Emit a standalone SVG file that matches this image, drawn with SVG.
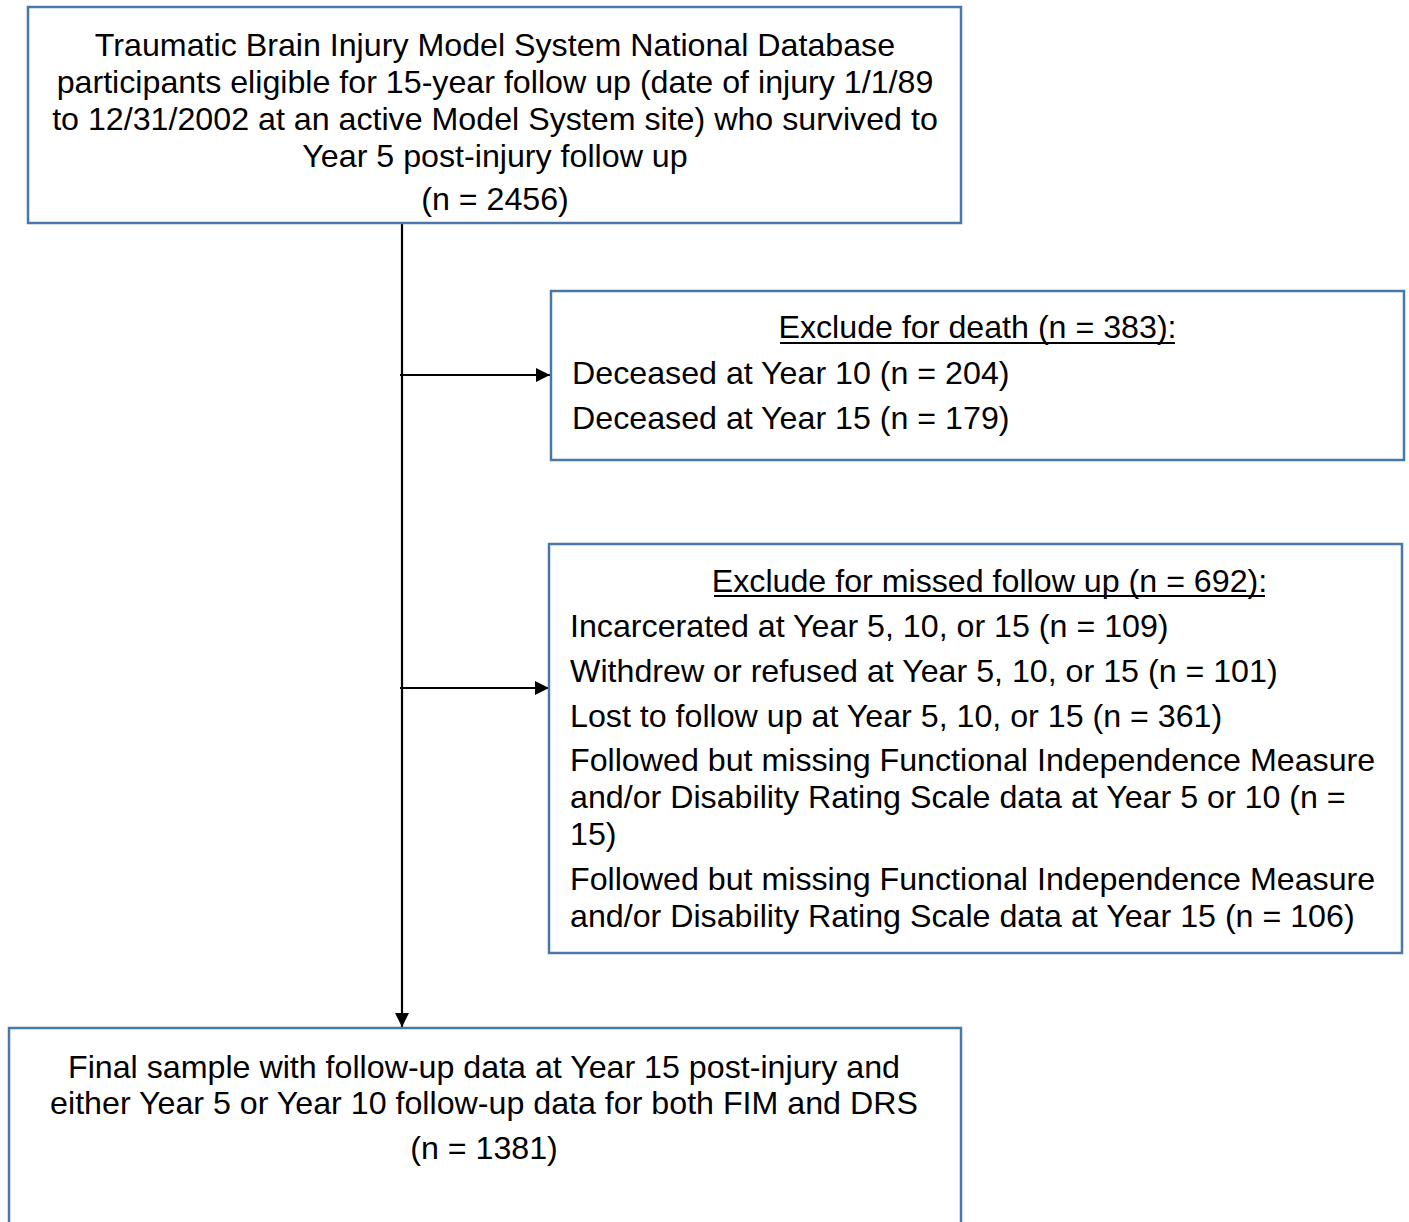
<svg xmlns="http://www.w3.org/2000/svg" width="1409" height="1222" viewBox="0 0 1409 1222">
<style>
.box{fill:#ffffff;stroke:#4a77a9;stroke-width:2.5}
.t{font-family:"Liberation Sans",Arial,sans-serif;font-size:32.2px;fill:#000000}
.c{text-anchor:middle}
.ul{stroke:#000000;stroke-width:2}
.conn{stroke:#000000;stroke-width:2.2;fill:none}
</style>
<defs>
<marker id="arr" viewBox="0 0 14 14" refX="14" refY="7" markerWidth="14" markerHeight="14" markerUnits="userSpaceOnUse" orient="auto">
<path d="M0,0 L14,7 L0,14 Z" fill="#000000"/>
</marker>
</defs>
<rect width="1409" height="1222" fill="#ffffff"/>
<g id="connectors">
<line class="conn" x1="402" y1="223" x2="402" y2="1027" marker-end="url(#arr)"/>
<line class="conn" x1="400" y1="375" x2="550" y2="375" marker-end="url(#arr)"/>
<line class="conn" x1="400" y1="688" x2="549" y2="688" marker-end="url(#arr)"/>
</g>
<g id="node-eligible">
<rect class="box" x="28" y="7" width="933" height="216"/>
<text class="t c" x="495" y="56">Traumatic Brain Injury Model System National Database</text>
<text class="t c" x="495" y="93">participants eligible for 15-year follow up (date of injury 1/1/89</text>
<text class="t c" x="495" y="130">to 12/31/2002 at an active Model System site) who survived to</text>
<text class="t c" x="495" y="167">Year 5 post-injury follow up</text>
<text class="t c" x="495" y="210">(n = 2456)</text>
</g>
<g id="node-death">
<rect class="box" x="551" y="291" width="853" height="169"/>
<text class="t c" x="977.5" y="338">Exclude for death (n = 383):</text>
<line class="ul" x1="780" y1="343" x2="1175" y2="343"/>
<text class="t" x="572" y="384">Deceased at Year 10 (n = 204)</text>
<text class="t" x="572" y="429">Deceased at Year 15 (n = 179)</text>
</g>
<g id="node-missed">
<rect class="box" x="549" y="544" width="853" height="409"/>
<text class="t c" x="989.5" y="592">Exclude for missed follow up (n = 692):</text>
<line class="ul" x1="714" y1="596" x2="1265" y2="596"/>
<text class="t" x="570" y="637">Incarcerated at Year 5, 10, or 15 (n = 109)</text>
<text class="t" x="570" y="682">Withdrew or refused at Year 5, 10, or 15 (n = 101)</text>
<text class="t" x="570" y="727">Lost to follow up at Year 5, 10, or 15 (n = 361)</text>
<text class="t" x="570" y="771">Followed but missing Functional Independence Measure</text>
<text class="t" x="570" y="808">and/or Disability Rating Scale data at Year 5 or 10 (n =</text>
<text class="t" x="570" y="845">15)</text>
<text class="t" x="570" y="890">Followed but missing Functional Independence Measure</text>
<text class="t" x="570" y="927">and/or Disability Rating Scale data at Year 15 (n = 106)</text>
</g>
<g id="node-final">
<rect class="box" x="9" y="1028" width="952" height="220"/>
<text class="t c" x="484" y="1078">Final sample with follow-up data at Year 15 post-injury and</text>
<text class="t c" x="484" y="1114">either Year 5 or Year 10 follow-up data for both FIM and DRS</text>
<text class="t c" x="484" y="1159">(n = 1381)</text>
</g>
</svg>
